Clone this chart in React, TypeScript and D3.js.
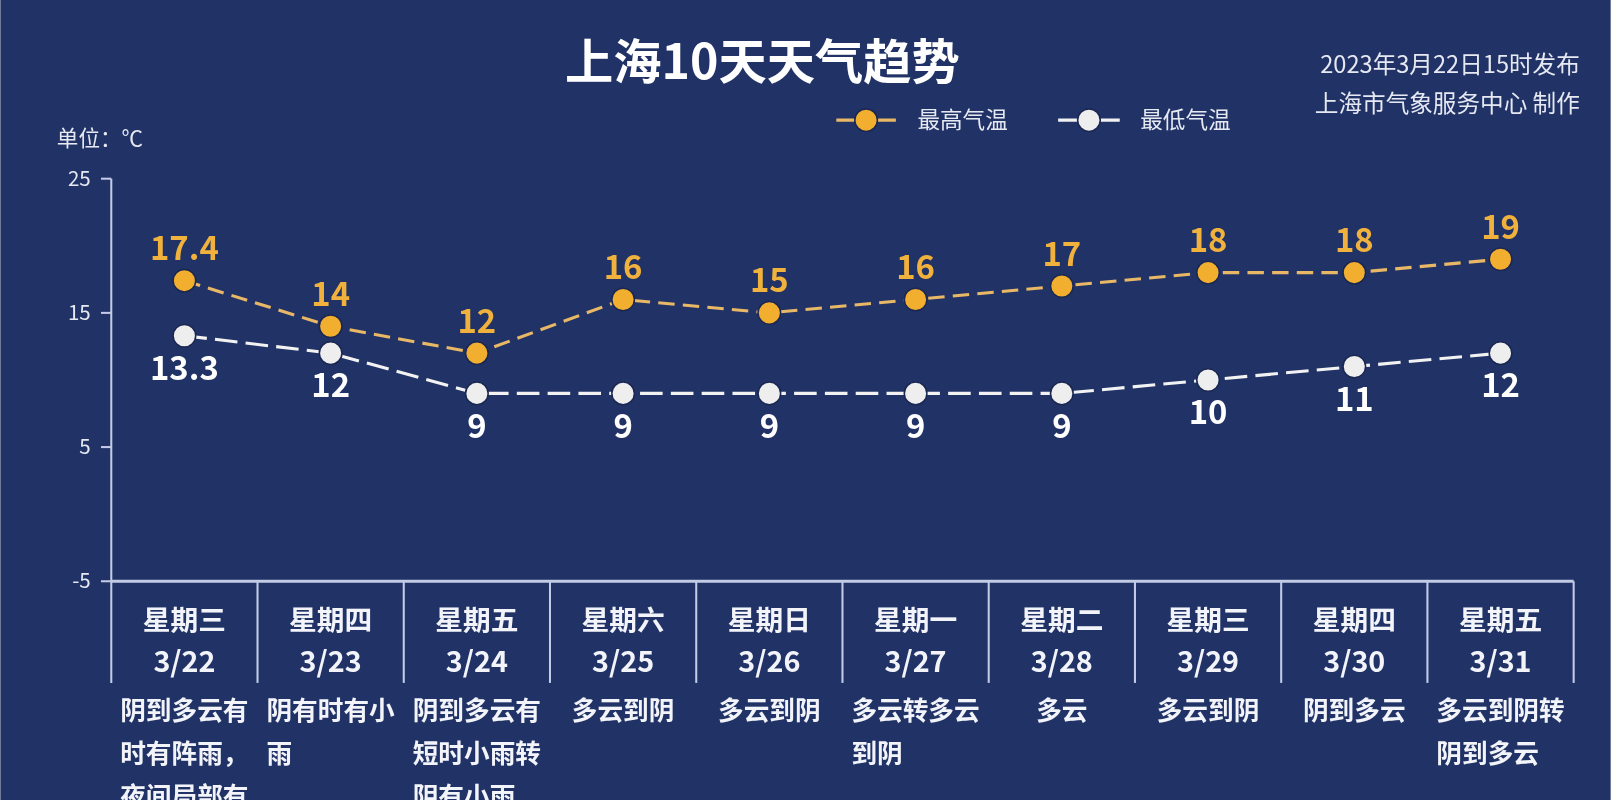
import * as d3 from "d3"

const dates = ["3/22", "3/23", "3/24", "3/25", "3/26", "3/27", "3/28", "3/29", "3/30", "3/31"]
const weekdays = ["星期三", "星期四", "星期五", "星期六", "星期日", "星期一", "星期二", "星期三", "星期四", "星期五"]
const highs = [17.4, 14, 12, 16, 15, 16, 17, 18, 18, 19]
const lows = [13.3, 12, 9, 9, 9, 9, 9, 10, 11, 12]
const weather = [
    "阴到多云有时有阵雨，夜间局部有",
    "阴有时有小雨",
    "阴到多云有短时小雨转阴有小雨",
    "多云到阴",
    "多云到阴",
    "多云转多云到阴",
    "多云",
    "多云到阴",
    "阴到多云",
    "多云到阴转阴到多云",
]
const yTicks = [-5, 5, 15, 25]

const W = 1568
const H = 779
const FONT = "'Noto Sans CJK SC', 'Noto Sans', sans-serif"
const BG = "#213366"
const ORANGE = "#f2ae2f"
const ORANGE_TXT = "#f0b23c"
const ORANGE_LINE = "#e9b866"
const WHITE = "#f2f2f2"
const AXIS = "#c3cbe6"

// split description into rows of 5 chars
const wrap = (s: string, n = 5) => {
    const out: string[] = []
    const chars = Array.from(s)
    for (let i = 0; i < chars.length; i += n) out.push(chars.slice(i, i + n).join(""))
    return out
}

export default function App() {
    const margin = { left: 108, right: W - 1532, top: 173, bottom: H - 565 }

    const x = d3.scaleBand<string>()
        .domain(dates)
        .range([margin.left, W - margin.right])
    const y = d3.scaleLinear()
        .domain([-5, 25])
        .range([566, 174])

    const cx = (d: string) => (x(d) ?? 0) + x.bandwidth() / 2

    const line = d3.line<number>()
        .x((_, i) => cx(dates[i]))
        .y(d => y(d))

    const descSize = 25
    const descLine = 42

    return (
        <svg
            viewBox={`0 0 ${W} ${H}`}
            width={1611}
            height={800}
            style={{ position: "fixed", left: 0, top: 0, display: "block" }}
            fontFamily={FONT}
        >
            <rect width={W} height={H} fill={BG} />

            {/* title */}
            <text x={742} y={77} textAnchor="middle" fill="#fff" fontSize={47} fontWeight="bold">上海10天天气趋势</text>
            <text x={1538} y={71} textAnchor="end" fill="#e6e9f2" fontSize={23}>2023年3月22日15时发布</text>
            <text x={1538} y={109} textAnchor="end" fill="#e6e9f2" fontSize={23}>上海市气象服务中心 制作</text>

            {/* legend */}
            <g>
                <line x1={814} x2={872} y1={117} y2={117} stroke={ORANGE_LINE} strokeWidth={3} />
                <circle cx={843} cy={117} r={11} fill={ORANGE} stroke="#1a2752" strokeWidth={1.5} />
                <text x={893} y={125} fill="#e6e9f2" fontSize={22}>最高气温</text>
                <line x1={1030} x2={1090} y1={117} y2={117} stroke={WHITE} strokeWidth={3} />
                <circle cx={1060} cy={117} r={11} fill="#eeeeee" stroke="#1a2752" strokeWidth={1.5} />
                <text x={1110} y={125} fill="#e6e9f2" fontSize={22}>最低气温</text>
            </g>

            <text x={55} y={142} fill="#e6e9f2" fontSize={21}>单位：℃</text>

            {/* y axis */}
            <line x1={margin.left} x2={margin.left} y1={y(25)} y2={665} stroke={AXIS} strokeWidth={2} />
            {yTicks.map(t => (
                <g key={t}>
                    <line x1={margin.left - 10} x2={margin.left} y1={y(t)} y2={y(t)} stroke={AXIS} strokeWidth={2} />
                    <text x={margin.left - 20} y={y(t)} dy="0.35em" textAnchor="end" fill="#e6e9f2" fontSize={20}>{t}</text>
                </g>
            ))}

            {/* x axis */}
            <line x1={margin.left} x2={W - margin.right} y1={y(-5)} y2={y(-5)} stroke={AXIS} strokeWidth={3} />
            {dates.map((d, i) => (
                <line key={"sep" + i} x1={(x(d) ?? 0) + x.bandwidth()} x2={(x(d) ?? 0) + x.bandwidth()} y1={y(-5)} y2={665} stroke={AXIS} strokeWidth={2} />
            ))}
            {dates.map((d, i) => (
                <g key={"cat" + i} fill="#f2f4fa" fontWeight="bold" textAnchor="middle">
                    <text x={cx(d)} y={604} dy="0.35em" fontSize={27}>{weekdays[i]}</text>
                    <text x={cx(d)} y={645} dy="0.35em" fontSize={28}>{d}</text>
                </g>
            ))}
            {weather.map((w, i) => {
                const rows = wrap(w)
                const maxLen = d3.max(rows, r => Array.from(r).length) ?? 0
                const left = cx(dates[i]) - (maxLen * descSize) / 2
                return (
                    <g key={"w" + i} fill="#f2f4fa" fontWeight="bold" fontSize={descSize}>
                        {rows.map((r, j) => (
                            <text key={j} x={left} y={692 + j * descLine} dy="0.35em">{r}</text>
                        ))}
                    </g>
                )
            })}

            {/* series lines */}
            <path d={line(highs) ?? ""} fill="none" stroke={ORANGE_LINE} strokeWidth={3} strokeDasharray="16 8" />
            <path d={line(lows) ?? ""} fill="none" stroke={WHITE} strokeWidth={3} strokeDasharray="22 8" />

            {highs.map((v, i) => (
                <g key={"h" + i}>
                    <circle cx={cx(dates[i])} cy={y(v)} r={11} fill={ORANGE} stroke="#1a2752" strokeWidth={1.5} />
                    <text x={cx(dates[i])} y={y(v) - 20} textAnchor="middle" fill={ORANGE_TXT} fontSize={32} fontWeight="bold">{v}</text>
                </g>
            ))}
            {lows.map((v, i) => (
                <g key={"l" + i}>
                    <circle cx={cx(dates[i])} cy={y(v)} r={11} fill="#eeeeee" stroke="#1a2752" strokeWidth={1.5} />
                    <text x={cx(dates[i])} y={y(v) + 43} textAnchor="middle" fill="#fff" fontSize={32} fontWeight="bold">{v}</text>
                </g>
            ))}
        </svg>
    )
}
